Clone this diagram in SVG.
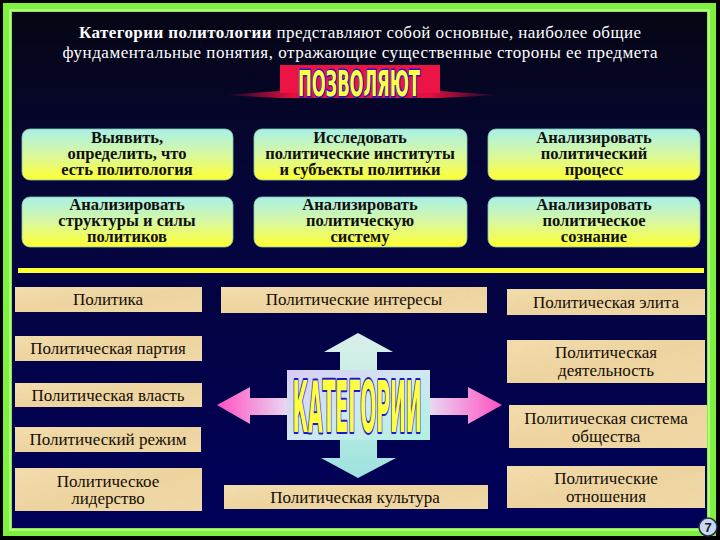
<svg xmlns="http://www.w3.org/2000/svg" width="720" height="540" viewBox="0 0 720 540">
<defs>
  <linearGradient id="bg" x1="0" y1="0" x2="0" y2="1">
    <stop offset="0" stop-color="#060614"/>
    <stop offset="0.3" stop-color="#050536"/>
    <stop offset="1" stop-color="#00005a"/>
  </linearGradient>
  <linearGradient id="yb" x1="0" y1="0" x2="0" y2="1">
    <stop offset="0" stop-color="#a8f0e8"/>
    <stop offset="0.5" stop-color="#d8f8a0"/>
    <stop offset="1" stop-color="#ffff30"/>
  </linearGradient>
  <linearGradient id="tan" x1="0" y1="0" x2="1" y2="1">
    <stop offset="0" stop-color="#f6e0b0"/>
    <stop offset="0.5" stop-color="#efd6a2"/>
    <stop offset="1" stop-color="#f4dcaa"/>
  </linearGradient>
  <linearGradient id="redline" x1="0" y1="0" x2="1" y2="0">
    <stop offset="0" stop-color="#e01040" stop-opacity="0"/>
    <stop offset="0.25" stop-color="#e01040"/>
    <stop offset="0.75" stop-color="#e01040"/>
    <stop offset="1" stop-color="#e01040" stop-opacity="0"/>
  </linearGradient>
  <linearGradient id="larr" x1="0" y1="0" x2="1" y2="0">
    <stop offset="0" stop-color="#ff50c0"/>
    <stop offset="1" stop-color="#e8dcf4"/>
  </linearGradient>
  <linearGradient id="rarr" x1="1" y1="0" x2="0" y2="0">
    <stop offset="0" stop-color="#ff50c0"/>
    <stop offset="1" stop-color="#e8dcf4"/>
  </linearGradient>
  <linearGradient id="varr" x1="0" y1="0" x2="0" y2="1">
    <stop offset="0" stop-color="#dceeea"/>
    <stop offset="0.5" stop-color="#b8f0e0"/>
    <stop offset="1" stop-color="#a0e0e0"/>
  </linearGradient>
  <linearGradient id="ctr" x1="0" y1="0" x2="1" y2="1">
    <stop offset="0" stop-color="#d8ccf4"/>
    <stop offset="0.5" stop-color="#d0e8f0"/>
    <stop offset="1" stop-color="#b0f0e0"/>
  </linearGradient>
  <filter id="tex" x="0" y="0" width="1" height="1">
    <feTurbulence type="fractalNoise" baseFrequency="0.8" numOctaves="2" seed="3" result="n"/>
    <feColorMatrix in="n" type="matrix" values="0 0 0 0 0.6  0 0 0 0 0.45  0 0 0 0 0.2  0 0 0 0.25 -0.05" result="c"/>
    <feComposite in="c" in2="SourceGraphic" operator="in" result="t"/>
    <feMerge><feMergeNode in="SourceGraphic"/><feMergeNode in="t"/></feMerge>
  </filter>
  <style>
    .title{font-family:"Liberation Serif","DejaVu Serif",serif;font-size:17px;fill:#ffffff}
    .yb{fill:url(#yb);stroke:#8cc8b0;stroke-width:0.8}
    .ybt{font-family:"Liberation Serif","DejaVu Serif",serif;font-size:16.5px;font-weight:bold;fill:#101010;text-anchor:middle}
    .tb{fill:url(#tan);filter:url(#tex)}
    .tbt{font-family:"Liberation Serif","DejaVu Serif",serif;font-size:17px;fill:#140e06;text-anchor:middle}
    .big{font-family:"DejaVu Sans Condensed","Liberation Sans Narrow","DejaVu Sans",sans-serif;font-weight:bold;fill:#ffff40;stroke:#1a1ac8;paint-order:stroke;stroke-linejoin:round}
  </style>
</defs>

<rect x="0" y="0" width="720" height="540" fill="#000000"/>
<rect x="3" y="3" width="713" height="533" fill="#7ef040"/>
<rect x="10" y="10" width="699" height="520" fill="none" stroke="#c8ff9a" stroke-width="1.5"/>
<rect x="12" y="12" width="695" height="516" fill="url(#bg)"/>

<g id="title">
  <text class="title" x="360" y="38" text-anchor="middle" textLength="562"><tspan font-weight="bold">Категории политологии</tspan> представляют собой основные, наиболее общие</text>
  <text class="title" x="360" y="58" text-anchor="middle" textLength="595">фундаментальные понятия, отражающие существенные стороны ее предмета</text>
</g>

<g id="pozvolyayut">
  <polygon points="223,95 280,91 440,91 500,95 440,98 280,98" fill="url(#redline)"/>
  <rect x="280" y="65" width="160" height="28" fill="#ec1444"/>
  <text class="big" x="359" y="96" font-size="36" text-anchor="middle" stroke-width="3" textLength="122" lengthAdjust="spacingAndGlyphs">ПОЗВОЛЯЮТ</text>
</g>

<g id="box1"><rect class="yb" x="22" y="129" width="211" height="51" rx="8"/>
  <text class="ybt" x="127" y="143">Выявить,</text><text class="ybt" x="127" y="159">определить, что</text><text class="ybt" x="127" y="175">есть политология</text></g>
<g id="box2"><rect class="yb" x="254" y="129" width="213" height="51" rx="8"/>
  <text class="ybt" x="360" y="143">Исследовать</text><text class="ybt" x="360" y="159">политические институты</text><text class="ybt" x="360" y="175">и субъекты политики</text></g>
<g id="box3"><rect class="yb" x="488" y="129" width="212" height="51" rx="8"/>
  <text class="ybt" x="594" y="143">Анализировать</text><text class="ybt" x="594" y="159">политический</text><text class="ybt" x="594" y="175">процесс</text></g>
<g id="box4"><rect class="yb" x="22" y="197" width="211" height="50" rx="8"/>
  <text class="ybt" x="127" y="210">Анализировать</text><text class="ybt" x="127" y="226">структуры и силы</text><text class="ybt" x="127" y="242">политиков</text></g>
<g id="box5"><rect class="yb" x="254" y="197" width="213" height="50" rx="8"/>
  <text class="ybt" x="360" y="210">Анализировать</text><text class="ybt" x="360" y="226">политическую</text><text class="ybt" x="360" y="242">систему</text></g>
<g id="box6"><rect class="yb" x="488" y="197" width="212" height="50" rx="8"/>
  <text class="ybt" x="594" y="210">Анализировать</text><text class="ybt" x="594" y="226">политическое</text><text class="ybt" x="594" y="242">сознание</text></g>

<rect id="divider" x="18" y="268" width="686" height="5" fill="#ffff30"/>

<g id="connectors">
  <polygon points="358,333 393,352 377,352 377,458 396,458 358,478 321,458 340,458 340,352 324,352" fill="url(#varr)"/>
  <polygon points="217,405 250,387 250,398 290,398 290,415 250,415 250,424" fill="url(#larr)"/>
  <polygon points="502,405 468,387 468,398 428,398 428,415 468,415 468,424" fill="url(#rarr)"/>
</g>

<g id="kategorii">
  <rect x="287" y="370" width="143" height="70" fill="url(#ctr)"/>
  <text class="big" x="357" y="432" font-size="72" text-anchor="middle" stroke-width="4" textLength="129" lengthAdjust="spacingAndGlyphs">КАТЕГОРИИ</text>
</g>

<g id="c1"><rect class="tb" x="15" y="287" width="187" height="25"/><text class="tbt" x="108" y="305">Политика</text></g>
<g id="c2"><rect class="tb" x="221" y="287" width="266" height="26"/><text class="tbt" x="354" y="305">Политические интересы</text></g>
<g id="c3"><rect class="tb" x="507" y="289" width="198" height="26"/><text class="tbt" x="606" y="308">Политическая элита</text></g>
<g id="c4"><rect class="tb" x="15" y="336" width="187" height="25"/><text class="tbt" x="108" y="354">Политическая партия</text></g>
<g id="c5"><rect class="tb" x="15" y="383" width="187" height="24"/><text class="tbt" x="108" y="401">Политическая власть</text></g>
<g id="c6"><rect class="tb" x="15" y="427" width="186" height="25"/><text class="tbt" x="108" y="445">Политический режим</text></g>
<g id="c7"><rect class="tb" x="15" y="468" width="187" height="43"/><text class="tbt" x="108" y="487">Политическое</text><text class="tbt" x="108" y="504">лидерство</text></g>
<g id="c8"><rect class="tb" x="224" y="485" width="264" height="24"/><text class="tbt" x="355" y="503">Политическая культура</text></g>
<g id="c9"><rect class="tb" x="507" y="340" width="198" height="43"/><text class="tbt" x="606" y="358">Политическая</text><text class="tbt" x="606" y="376">деятельность</text></g>
<g id="c10"><rect class="tb" x="509" y="405" width="198" height="43"/><text class="tbt" x="606" y="424">Политическая система</text><text class="tbt" x="606" y="442">общества</text></g>
<g id="c11"><rect class="tb" x="507" y="466" width="198" height="42"/><text class="tbt" x="606" y="484">Политические</text><text class="tbt" x="606" y="502">отношения</text></g>

<g id="pagenum">
  <circle cx="708" cy="527" r="9" fill="#c8d8ee" stroke="#2a2a48" stroke-width="1.5"/>
  <text x="708" y="532" font-family="Liberation Sans,DejaVu Sans,sans-serif" font-size="13" font-weight="bold" fill="#1a1a30" text-anchor="middle">7</text>
</g>
</svg>
